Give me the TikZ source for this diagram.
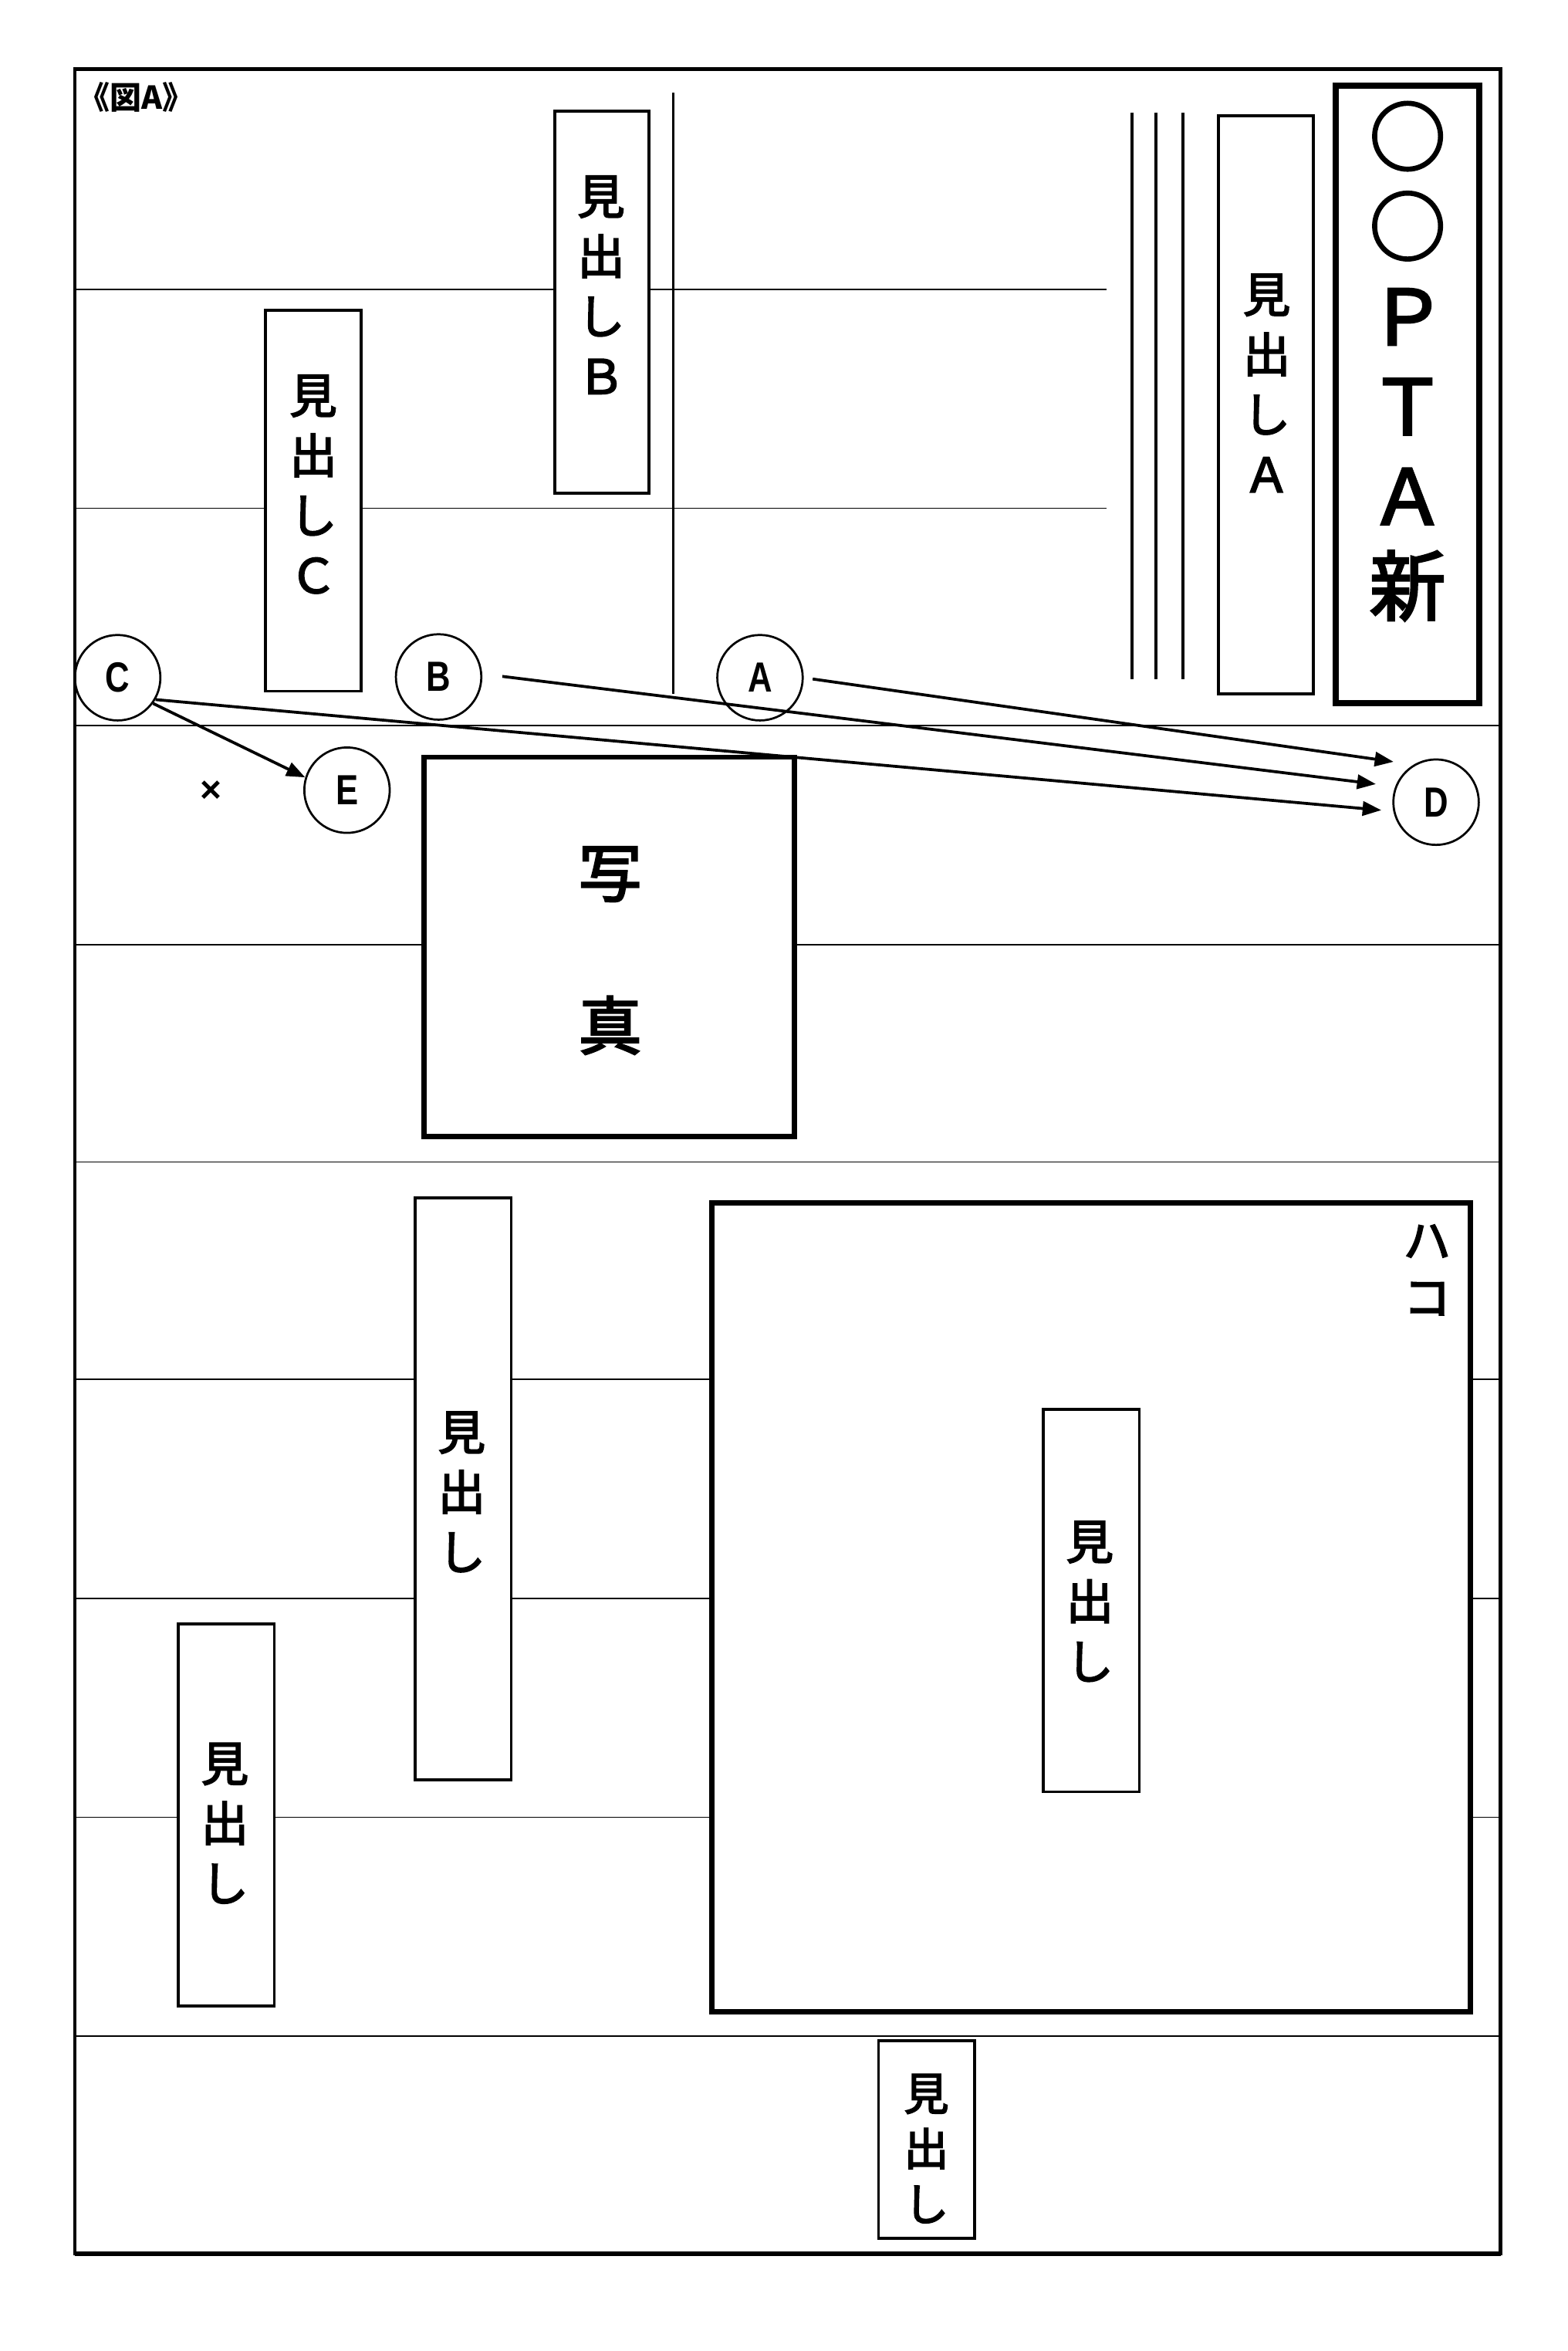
\documentclass[tikz,border=0pt]{standalone}
\usepackage{fontspec}
\setmainfont{Liberation Sans}
\newfontfamily\jp[FakeBold=3]{Noto Sans CJK JP}
\newfontfamily\jpb{Noto Sans CJK JP}
\newfontfamily\narrowfont[FakeStretch=0.8]{Liberation Sans}
\usetikzlibrary{arrows.meta}
\begin{document}
\begin{tikzpicture}[x=0.02cm,y=-0.02cm,
  rulel/.style={line width=0.55pt},
  hbox/.style={draw, fill=white, line width=1.1pt, inner sep=0pt},
  heavybox/.style={hbox, line width=2pt},
  vtext/.style={font=\jp\fontsize{18}{22.76}\selectfont, align=center, inner sep=0pt},
  circ/.style={draw, circle, line width=0.8pt, minimum size=1.14cm, inner sep=0pt, font=\narrowfont\bfseries\fontsize{16}{16}\selectfont},
  arr/.style={line width=1.1pt, -{Triangle[length=0.25cm,width=0.19cm]}}]
\useasboundingbox (0,0) rectangle (1046,1568);
% horizontal rules
\foreach \yy in {193,339} \draw[rulel] (50,\yy) -- (738,\yy);
\foreach \yy in {484,630,775,920,1066,1212,1358} \draw[rulel] (50,\yy) -- (1001,\yy);
% vertical rules
\draw[line width=0.8pt] (449,62) -- (449,463);
\foreach \xx in {755,771,789} \draw[line width=1.2pt] (\xx,75) -- (\xx,453);
% outer frame
\draw[line width=1.3pt] (50,46) rectangle (1001,1503);
\draw[line width=1.8pt] (50,1503) -- (1001,1503);
% title
\node[anchor=west, inner sep=0pt, font=\jpb\bfseries\fontsize{12}{12}\selectfont] (title) at (52,65) {《図A》};
% boxes
\node[hbox, minimum width=1.26cm, minimum height=7.72cm] (bA) at (844.5,270) {};
\node[heavybox, line width=2.3pt, minimum width=1.92cm, minimum height=8.24cm] (bPTA) at (939,263) {};
\node[hbox, minimum width=1.26cm, minimum height=5.10cm] (bB) at (401.5,201.5) {};
\node[hbox, minimum width=1.28cm, minimum height=5.08cm] (bC) at (209,334) {};
\node[heavybox, minimum width=4.94cm, minimum height=5.06cm] (photo) at (406.5,631.5) {};
\node[hbox, minimum width=1.28cm, minimum height=7.76cm] (bM1) at (309,993) {};
\node[heavybox, minimum width=10.12cm, minimum height=10.80cm] (haco) at (728,1072) {};
\node[hbox, minimum width=1.28cm, minimum height=5.10cm] (bM2) at (728,1067.5) {};
\node[hbox, minimum width=1.28cm, minimum height=5.10cm] (bM3) at (151,1210.5) {};
\node[hbox, minimum width=1.28cm, minimum height=2.64cm] (bM4) at (618,1427) {};
% texts
\node[vtext] (tA) at (845,255.5) {見\\出\\し\\Ａ};
\node[vtext, font=\jp\fontsize{29}{34.1}\selectfont] (tPTA) at (939,241) {○\\○\\Ｐ\\Ｔ\\Ａ\\新};
\node[vtext] (tB) at (401,190) {見\\出\\し\\Ｂ};
\node[vtext] (tC) at (209,323) {見\\出\\し\\Ｃ};
\node[vtext, font=\jp\fontsize{24}{58}\selectfont] (tPhoto) at (407,634) {写\\真};
\node[vtext] (tM1) at (308,995) {見\\出\\し};
\node[vtext, font=\jp\fontsize{18}{21.6}\selectfont] (tHaco) at (952,847) {ハ\\コ};
\node[vtext] (tM2) at (727,1068) {見\\出\\し};
\node[vtext] (tM3) at (150,1216) {見\\出\\し};
\node[vtext, font=\jp\fontsize{17}{21}\selectfont] (tM4) at (618,1433) {見\\出\\し};
% circles
\node[circ] (C) at (78.5,452) {C};
\node[circ] (B) at (292.6,451.5) {B};
\node[circ] (A) at (507,452) {A};
\node[circ] (E) at (231.5,527) {E};
\node[circ] (D) at (958,535) {D};
\node[inner sep=0pt, font=\bfseries\fontsize{14}{14}\selectfont] (cross) at (141,528) {×};
% arrows
\draw[arr, shorten <=0.12cm, shorten >=0.27cm] (A.east) -- (D.121);
\draw[arr, shorten <=0.27cm, shorten >=0.26cm] (B.4) -- (D.159);
\draw[arr, shorten >=0.16cm] (C.-30) -- (D.192);
\draw[arr] (C.-36) -- (E.163);
\end{tikzpicture}
\end{document}
